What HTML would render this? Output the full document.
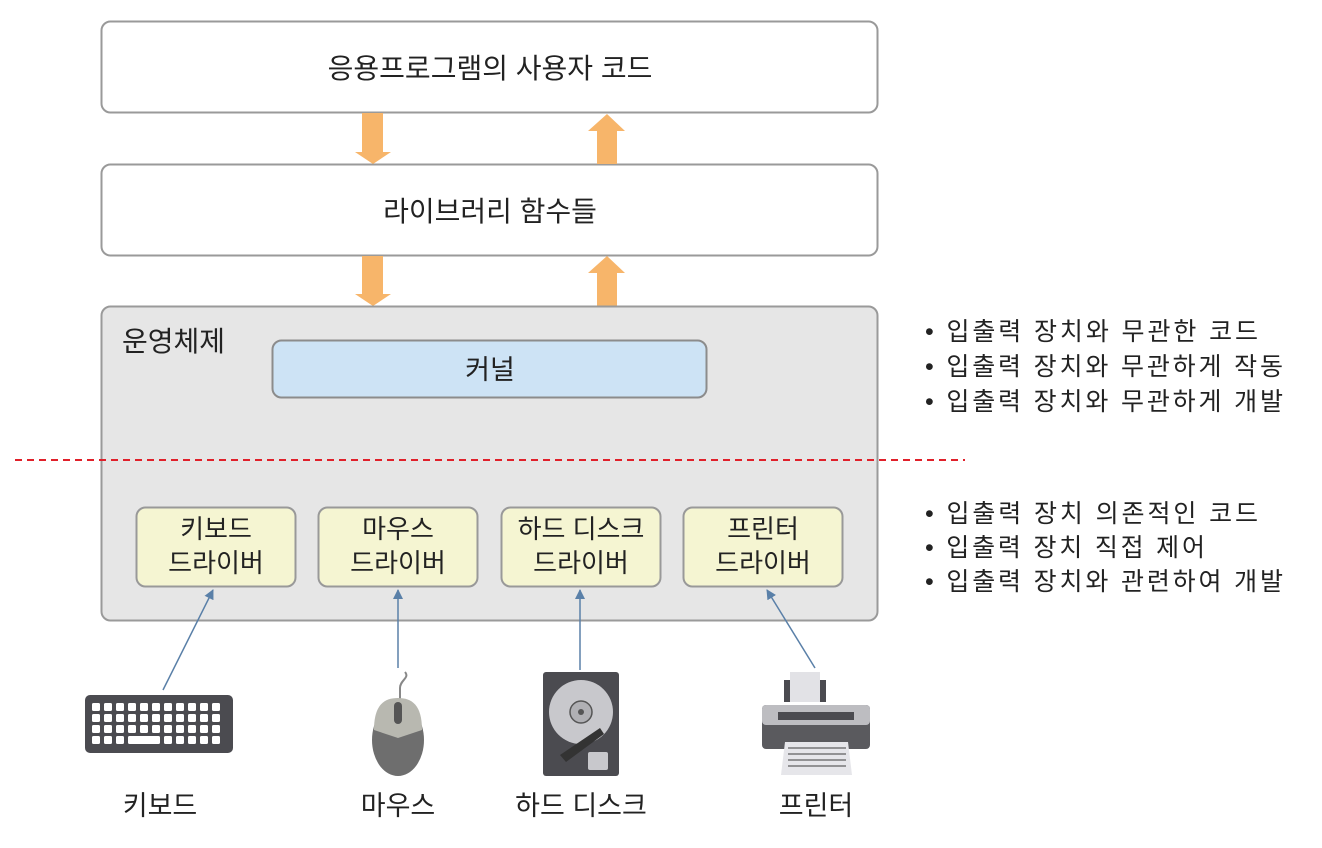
<!DOCTYPE html>
<html><head><meta charset="utf-8"><style>
html,body{margin:0;padding:0;background:#fff;}
svg{display:block;}
text{font-family:"Liberation Sans","Noto Sans CJK KR",sans-serif;fill:#222;}
</style></head><body>
<svg width="1322" height="848" viewBox="0 0 1322 848" xmlns="http://www.w3.org/2000/svg">
<defs>
<marker id="ah" markerWidth="10" markerHeight="10" refX="9" refY="5" orient="auto" markerUnits="userSpaceOnUse"><path d="M0,0 L10,5 L0,10 Z" fill="#5a80a8"/></marker>
</defs>
<rect x="101.5" y="21.5" width="776" height="91" rx="9" fill="#fff" stroke="#9a9a9a" stroke-width="2"/>
<text x="490" y="78" font-size="28" text-anchor="middle">응용프로그램의 사용자 코드</text>
<rect x="101.5" y="164.5" width="776" height="91" rx="9" fill="#fff" stroke="#9a9a9a" stroke-width="2"/>
<text x="490" y="221" font-size="28" text-anchor="middle">라이브러리 함수들</text>
<g fill="#f7b56a">
<polygon points="362,113 383,113 383,152 391,152 373,164 355,152 362,152"/>
<polygon points="597,164 617,164 617,131 625,131 607,114 588,131 597,131"/>
<polygon points="362,256 383,256 383,294 391,294 373,306 355,294 362,294"/>
<polygon points="597,306 617,306 617,273 625,273 607,256 588,273 597,273"/>
</g>
<rect x="101.5" y="306.5" width="776" height="314" rx="9" fill="#e6e6e6" stroke="#9a9a9a" stroke-width="2"/>
<text x="122" y="351" font-size="28">운영체제</text>
<rect x="272.5" y="340.5" width="434" height="57" rx="9" fill="#cde3f5" stroke="#8c8c8c" stroke-width="2"/>
<text x="490" y="379" font-size="27" text-anchor="middle">커널</text>
<line x1="15" y1="460" x2="965" y2="460" stroke="#e0202a" stroke-width="2" stroke-dasharray="7,5"/>
<g fill="#f5f5d2" stroke="#999" stroke-width="2">
<rect x="136.5" y="507.5" width="159" height="79" rx="9"/>
<rect x="318.5" y="507.5" width="159" height="79" rx="9"/>
<rect x="501.5" y="507.5" width="159" height="79" rx="9"/>
<rect x="683.5" y="507.5" width="159" height="79" rx="9"/>
</g>
<g font-size="26" text-anchor="middle">
<text x="216" y="538">키보드</text><text x="216" y="572">드라이버</text>
<text x="398" y="538">마우스</text><text x="398" y="572">드라이버</text>
<text x="581" y="538">하드 디스크</text><text x="581" y="572">드라이버</text>
<text x="763" y="538">프린터</text><text x="763" y="572">드라이버</text>
</g>
<g stroke="#5a80a8" stroke-width="1.5" marker-end="url(#ah)">
<line x1="163" y1="690" x2="213" y2="590"/>
<line x1="398" y1="668" x2="398" y2="590"/>
<line x1="580" y1="670" x2="580" y2="590"/>
<line x1="815" y1="668" x2="767" y2="590"/>
</g>
<!-- keyboard -->
<rect x="85" y="695" width="148" height="58" rx="5" fill="#4b4b50"/>
<g fill="#fff">
<g id="kr"><rect x="92" y="703" width="8" height="8" rx="1.5"/><rect x="104" y="703" width="8" height="8" rx="1.5"/><rect x="116" y="703" width="8" height="8" rx="1.5"/><rect x="128" y="703" width="8" height="8" rx="1.5"/><rect x="140" y="703" width="8" height="8" rx="1.5"/><rect x="152" y="703" width="8" height="8" rx="1.5"/><rect x="164" y="703" width="8" height="8" rx="1.5"/><rect x="176" y="703" width="8" height="8" rx="1.5"/><rect x="188" y="703" width="8" height="8" rx="1.5"/><rect x="200" y="703" width="8" height="8" rx="1.5"/><rect x="212" y="703" width="8" height="8" rx="1.5"/></g>
<use href="#kr" x="0" y="11"/><use href="#kr" x="0" y="22"/>
<rect x="92" y="736" width="8" height="8" rx="1.5"/><rect x="104" y="736" width="8" height="8" rx="1.5"/><rect x="116" y="736" width="8" height="8" rx="1.5"/>
<rect x="128" y="736" width="32" height="8" rx="1.5"/>
<rect x="164" y="736" width="8" height="8" rx="1.5"/><rect x="176" y="736" width="8" height="8" rx="1.5"/><rect x="188" y="736" width="8" height="8" rx="1.5"/><rect x="200" y="736" width="8" height="8" rx="1.5"/><rect x="212" y="736" width="8" height="8" rx="1.5"/>
</g>
<!-- mouse -->
<path d="M405,672 C410,678 400,680 400,688 L400,700" stroke="#888" stroke-width="2" fill="none"/>
<ellipse cx="398" cy="740" rx="26" ry="36" fill="#6e6e6e"/>
<path d="M374,730 C374,705 384,698 398,698 C412,698 422,705 422,730 L398,738 Z" fill="#b8b8b0"/>
<rect x="394" y="702" width="8" height="22" rx="4" fill="#555"/>
<!-- HDD -->
<rect x="543" y="672" width="76" height="104" rx="3" fill="#4b4b50"/>
<circle cx="581" cy="712" r="32" fill="#c8c8cc"/>
<circle cx="581" cy="712" r="11" fill="#b0b0b4" stroke="#555" stroke-width="1.5"/>
<circle cx="581" cy="712" r="3" fill="#555"/>
<path d="M560,755 L600,728 L604,734 L566,762 Z" fill="#333"/>
<rect x="588" y="752" width="20" height="18" rx="2" fill="#c8c8cc"/>
<!-- printer -->
<rect x="790" y="672" width="30" height="30" fill="#e2e2e6"/>
<rect x="784" y="680" width="6" height="22" fill="#4b4b50"/><rect x="820" y="680" width="6" height="22" fill="#4b4b50"/>
<rect x="762" y="705" width="108" height="44" rx="4" fill="#5a5a5e"/>
<rect x="762" y="705" width="108" height="20" rx="4" fill="#bdbdc1"/>
<rect x="778" y="712" width="76" height="8" fill="#4b4b50"/>
<path d="M785,742 L848,742 L852,775 L781,775 Z" fill="#e6e6ea"/>
<g stroke="#777" stroke-width="1.5"><line x1="788" y1="748" x2="846" y2="748"/><line x1="788" y1="754" x2="846" y2="754"/><line x1="788" y1="760" x2="846" y2="760"/><line x1="788" y1="766" x2="846" y2="766"/></g>
<g font-size="27" text-anchor="middle">
<text x="160" y="815">키보드</text>
<text x="398" y="815">마우스</text>
<text x="581" y="815">하드 디스크</text>
<text x="816" y="815">프린터</text>
</g>
<g font-size="25">
<text x="925" y="340" textLength="333" lengthAdjust="spacing">• 입출력 장치와 무관한 코드</text>
<text x="925" y="375" textLength="358" lengthAdjust="spacing">• 입출력 장치와 무관하게 작동</text>
<text x="925" y="410" textLength="358" lengthAdjust="spacing">• 입출력 장치와 무관하게 개발</text>
<text x="925" y="522" textLength="333" lengthAdjust="spacing">• 입출력 장치 의존적인 코드</text>
<text x="925" y="556" textLength="280" lengthAdjust="spacing">• 입출력 장치 직접 제어</text>
<text x="925" y="590" textLength="358" lengthAdjust="spacing">• 입출력 장치와 관련하여 개발</text>
</g>
</svg>
</body></html>
